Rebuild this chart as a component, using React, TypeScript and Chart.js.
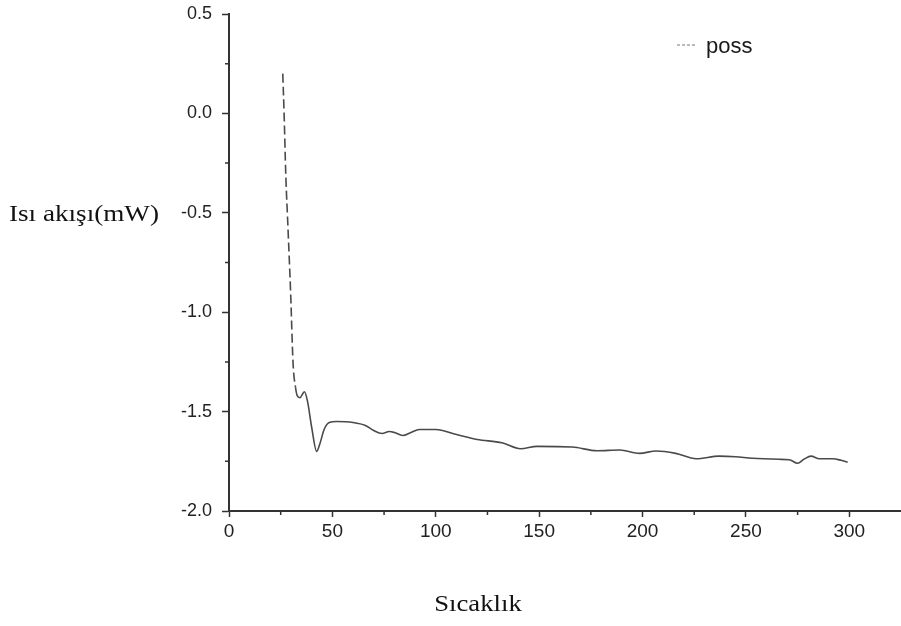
import { useEffect, useRef } from 'react';
import { Chart, registerables } from 'chart.js';

Chart.register(...registerables);

const seriesLabel = 'poss';
const yTitle = 'Isı akışı(mW)';
const xTitle = 'Sıcaklık';

const temperature = [
  26.0, 26.6, 27.5, 28.5, 29.8, 31.0, 32.2, 33.0, 34.3, 36.5, 38.0, 40.0, 42.4, 44.0, 46.0,
  48.5, 52.0, 60.0, 66.0, 70.0, 74.0, 77.5, 80.0, 84.0, 88.0, 92.0, 100.0, 110.0, 120.0,
  132.0, 141.0, 149.0, 166.0, 178.0, 189.0, 198.6, 206.6, 216.0, 226.0, 237.0, 245.0,
  253.0, 266.0, 271.0, 275.0, 278.0, 281.5, 285.5, 292.0, 296.0, 299.2,
];
const heatFlow = [
  0.2, 0.015, -0.32, -0.57, -0.9, -1.26, -1.38, -1.42, -1.43, -1.4, -1.45, -1.58, -1.7, -1.66,
  -1.59, -1.555, -1.55, -1.555, -1.57, -1.595, -1.61, -1.6, -1.605, -1.62, -1.605, -1.59, -1.59,
  -1.615, -1.64, -1.657, -1.687, -1.675, -1.678, -1.697, -1.693, -1.71, -1.698, -1.71, -1.737,
  -1.724, -1.727, -1.735, -1.74, -1.742, -1.76, -1.74, -1.724, -1.737, -1.737, -1.745, -1.755,
];

const xMajorStep = 50;
const xMinorTicks = [25, 75, 125, 175, 225, 275];
const yMajorStep = 0.5;
const yMinorTicks = [0.25, -0.25, -0.75, -1.25, -1.75];

const AXIS_COLOR = '#333';
const LINE_COLOR = '#4a4a4a';
const LABEL_COLOR = '#222';

const decorPlugin = {
  id: 'decor',
  afterDraw(chart: any) {
    const { ctx, scales } = chart;
    const xs = scales.x;
    const ys = scales.y;
    ctx.save();
    ctx.strokeStyle = AXIS_COLOR;
    ctx.lineWidth = 1.5;
    ctx.beginPath();
    for (const t of xMinorTicks) {
      const px = xs.getPixelForValue(t);
      ctx.moveTo(px, ys.bottom);
      ctx.lineTo(px, ys.bottom + 4);
    }
    for (const t of yMinorTicks) {
      const py = ys.getPixelForValue(t);
      ctx.moveTo(xs.left, py);
      ctx.lineTo(xs.left - 4, py);
    }
    ctx.stroke();

    // legend
    const lx = 677;
    const ly = 45;
    ctx.strokeStyle = '#777';
    ctx.lineWidth = 1;
    ctx.setLineDash([3, 2]);
    ctx.beginPath();
    ctx.moveTo(lx, ly);
    ctx.lineTo(lx + 20, ly);
    ctx.stroke();
    ctx.setLineDash([]);
    ctx.fillStyle = '#1a1a1a';
    ctx.font = '22px "Liberation Sans", Arial, sans-serif';
    ctx.textAlign = 'left';
    ctx.textBaseline = 'alphabetic';
    ctx.fillText(chart.data.datasets[0].label, 706, 53);

    // titles (source image is horizontally stretched)
    ctx.fillStyle = '#111';
    ctx.font = '23px "Liberation Serif", "Times New Roman", serif';
    ctx.save();
    ctx.translate(9, 221);
    ctx.scale(1.18, 1);
    ctx.fillText(yTitle, 0, 0);
    ctx.restore();

    ctx.save();
    ctx.translate(478, 611);
    ctx.scale(1.16, 1);
    ctx.textAlign = 'center';
    ctx.fillText(xTitle, 0, 0);
    ctx.restore();

    ctx.restore();
  },
};

export default function App() {
  const canvasRef = useRef<HTMLCanvasElement | null>(null);

  useEffect(() => {
    const canvas = canvasRef.current;
    if (!canvas) return;
    const points = temperature.map((t, i) => ({ x: t, y: heatFlow[i] }));
    const chart = new Chart(canvas, {
      type: 'line',
      data: {
        datasets: [
          {
            label: seriesLabel,
            data: points,
            borderColor: LINE_COLOR,
            borderWidth: 1.6,
            pointRadius: 0,
            fill: false,
            cubicInterpolationMode: 'monotone',
            segment: {
              borderDash: (c: any) => (c.p0.parsed.x < 32 ? [9, 4] : undefined),
            },
          },
        ],
      },
      options: {
        responsive: false,
        animation: false,
        layout: { padding: { left: 0, top: 14, right: 0, bottom: 0 } },
        plugins: {
          legend: { display: false },
          tooltip: { enabled: false },
          title: { display: false },
        },
        scales: {
          x: {
            type: 'linear',
            min: 0,
            max: 325,
            afterFit: (s: any) => {
              s.height = 115;
              s.paddingLeft = 0;
              s.paddingRight = 0;
            },
            ticks: {
              stepSize: xMajorStep,
              includeBounds: false,
              color: LABEL_COLOR,
              font: { family: '"Liberation Sans", Arial, sans-serif', size: 19 },
              padding: 3,
              maxRotation: 0,
            },
            grid: {
              drawOnChartArea: false,
              drawTicks: true,
              tickLength: 6,
              tickColor: AXIS_COLOR,
              tickWidth: 1.5,
            },
            border: { display: true, color: AXIS_COLOR, width: 2 },
          },
          y: {
            type: 'linear',
            min: -2,
            max: 0.5,
            afterFit: (s: any) => {
              s.width = 229;
              s.paddingTop = 0;
              s.paddingBottom = 0;
            },
            ticks: {
              stepSize: yMajorStep,
              color: LABEL_COLOR,
              font: { family: '"Liberation Sans", Arial, sans-serif', size: 18 },
              padding: 10,
              callback: (v: any) => Number(v).toFixed(1),
            },
            grid: {
              drawOnChartArea: false,
              drawTicks: true,
              tickLength: 7,
              tickColor: AXIS_COLOR,
              tickWidth: 1.5,
            },
            border: { display: true, color: AXIS_COLOR, width: 2 },
          },
        },
      },
      plugins: [decorPlugin],
    } as any);
    return () => chart.destroy();
  }, []);

  return (
    <div style={{ position: 'absolute', left: 0, top: 0, width: 901, height: 626, background: '#fff' }}>
      <canvas ref={canvasRef} width={901} height={626} style={{ width: 901, height: 626, display: 'block' }} />
    </div>
  );
}
